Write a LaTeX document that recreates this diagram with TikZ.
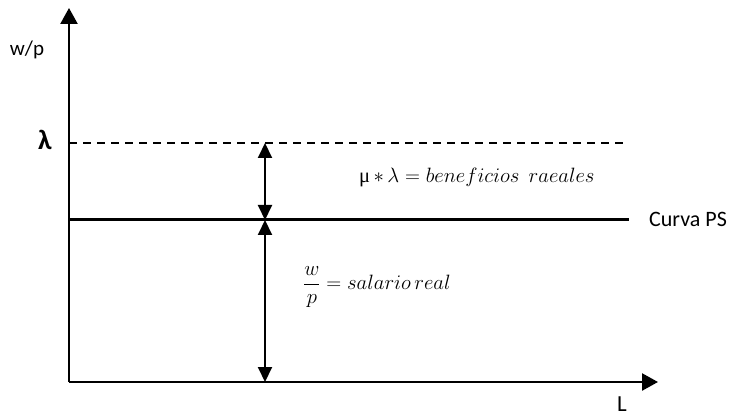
\documentclass[tikz,border=0pt]{standalone}
\usepackage{fontspec}
\setmainfont{Carlito}
\newfontfamily\grkfont{Liberation Serif}
\usetikzlibrary{arrows.meta}
\begin{document}
\begin{tikzpicture}[x=1pt,y=-1pt,
  axis/.style={line width=2.4pt,-{Triangle[length=16pt,width=17pt]}},
  span/.style={line width=2pt,{Triangle[length=15pt,width=14pt]}-{Triangle[length=15pt,width=14pt]}},
  lbl/.style={inner sep=0pt,font=\fontsize{21}{24}\selectfont},
  eqn/.style={inner sep=0pt,anchor=west,font=\fontsize{20.5}{24}\selectfont}]
  \useasboundingbox (0,0) rectangle (741,419);
  % axes
  \coordinate (O) at (69,382);
  \coordinate (ytop) at (69,8);
  \coordinate (xend) at (658,382);
  \draw[axis] (O) -- (ytop);
  \draw[axis] (O) -- (xend);
  % price level and PS curve
  \coordinate (lamL) at (69,143);
  \coordinate (lamR) at (625,143);
  \coordinate (psL) at (69,220);
  \coordinate (psR) at (629,220);
  \draw[line width=1.6pt,dash pattern=on 8pt off 6pt] (lamL) -- (lamR);
  \draw[line width=3pt] (psL) -- (psR);
  % vertical spans
  \coordinate (a1) at (265,143);
  \coordinate (a2) at (265,220);
  \coordinate (a3) at (265,382);
  \draw[span] (a1) -- (a2);
  \draw[span] (a2) -- (a3);
  % labels
  \node[lbl] (wp) at (27,50) {w/p};
  \node[lbl,font=\fontsize{28}{30}\selectfont\bfseries] (lam) at (45,140) {λ};
  \node[lbl,anchor=west,font=\fontsize{22}{24}\selectfont] (ps) at (649,219) {Curva PS};
  \node[lbl,font=\fontsize{23}{26}\selectfont] (L) at (622,404) {L};
  \node[eqn] (ben) at (359,177) {{\grkfont μ}$\,*\,\lambda = beneficios\ \ raeales$};
  \node[eqn] (sal) at (303,287) {$\displaystyle\frac{w}{p} = salario\,real$};
\end{tikzpicture}
\end{document}
